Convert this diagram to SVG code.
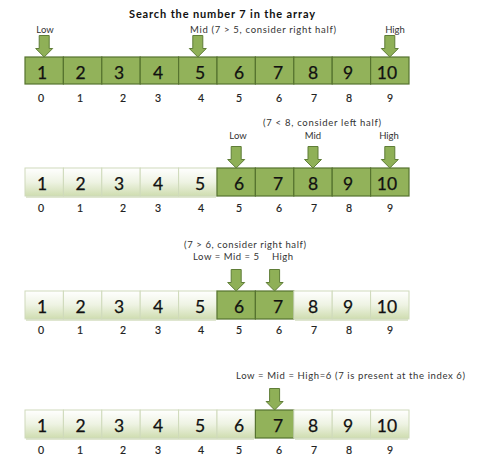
<svg xmlns="http://www.w3.org/2000/svg" width="502" height="462" viewBox="0 0 502 462">
<defs>
<linearGradient id="lightG" x1="0" y1="0" x2="0" y2="1">
<stop offset="0" stop-color="#ffffff"/>
<stop offset="0.5" stop-color="#eef3e3"/>
<stop offset="1" stop-color="#cfddb0"/>
</linearGradient>
<path id="arr" d="M-5,0 H5 V13 H8.5 L0,21.5 L-8.5,13 H-5 Z"/>
</defs>
<style>
.g{fill:#92b25a;stroke:#56732f;stroke-width:1.2}
.l{fill:url(#lightG);stroke:#cfdabb;stroke-width:1}
.n{font-family:Lato,"Open Sans",sans-serif;font-size:17.5px;fill:#111;text-anchor:middle;stroke:#111;stroke-width:0.25}
.i{font-family:Lato,"Open Sans",sans-serif;font-size:10.5px;fill:#222;text-anchor:middle;stroke:#222;stroke-width:0.2}
.t{font-family:Lato,"Open Sans",sans-serif;font-size:9.5px;fill:#333}
.c{text-anchor:middle}
.h{font-family:Lato,"Open Sans",sans-serif;font-size:11px;font-weight:bold;fill:#111;text-anchor:middle}
.a{fill:#8fb057;stroke:#5f7d37;stroke-width:1}
.s{fill:#c9d6b0;opacity:0.6}
</style>
<rect width="502" height="462" fill="#ffffff"/>
<text class="h" x="222" y="18" textLength="186">Search the number 7 in the array</text>

<!-- Row 1 -->
<g id="row1">
<g id="r1c0"><rect class="g" x="25" y="57" width="38.4" height="27"/><text class="n" x="42" y="79">1</text></g>
<g id="r1c1"><rect class="g" x="63.4" y="57" width="38.4" height="27"/><text class="n" x="80.5" y="79">2</text></g>
<g id="r1c2"><rect class="g" x="101.8" y="57" width="38.4" height="27"/><text class="n" x="119" y="79">3</text></g>
<g id="r1c3"><rect class="g" x="140.2" y="57" width="38.4" height="27"/><text class="n" x="158" y="79">4</text></g>
<g id="r1c4"><rect class="g" x="178.6" y="57" width="38.4" height="27"/><text class="n" x="200" y="79">5</text></g>
<g id="r1c5"><rect class="g" x="217" y="57" width="38.4" height="27"/><text class="n" x="239" y="79">6</text></g>
<g id="r1c6"><rect class="g" x="255.4" y="57" width="38.4" height="27"/><text class="n" x="278" y="79">7</text></g>
<g id="r1c7"><rect class="g" x="293.8" y="57" width="38.4" height="27"/><text class="n" x="313" y="79">8</text></g>
<g id="r1c8"><rect class="g" x="332.2" y="57" width="38.4" height="27"/><text class="n" x="348" y="79">9</text></g>
<g id="r1c9"><rect class="g" x="370.6" y="57" width="38.4" height="27"/><text class="n" x="387" y="79">10</text></g>
</g>
<g id="idx1">
<text class="i" x="41" y="102">0</text><text class="i" x="80" y="102">1</text><text class="i" x="123" y="102">2</text><text class="i" x="158" y="102">3</text><text class="i" x="201" y="102">4</text><text class="i" x="239" y="102">5</text><text class="i" x="279" y="102">6</text><text class="i" x="314" y="102">7</text><text class="i" x="349" y="102">8</text><text class="i" x="390" y="102">9</text>
</g>
<g id="lab1">
<text class="t c" x="45" y="33">Low</text>
<text class="t" x="190" y="33" textLength="146">Mid (7 &gt; 5, consider right half)</text>
<text class="t c" x="395" y="33">High</text>
</g>

<!-- Row 2 -->
<g id="row2">
<rect class="s" x="26" y="196" width="190" height="2"/>
<g id="r2c0"><rect class="l" x="25" y="168" width="38.4" height="28"/><text class="n" x="42" y="190">1</text></g>
<g id="r2c1"><rect class="l" x="63.4" y="168" width="38.4" height="28"/><text class="n" x="80.5" y="190">2</text></g>
<g id="r2c2"><rect class="l" x="101.8" y="168" width="38.4" height="28"/><text class="n" x="119" y="190">3</text></g>
<g id="r2c3"><rect class="l" x="140.2" y="168" width="38.4" height="28"/><text class="n" x="158" y="190">4</text></g>
<g id="r2c4"><rect class="l" x="178.6" y="168" width="38.4" height="28"/><text class="n" x="200" y="190">5</text></g>
<g id="r2c5"><rect class="g" x="217" y="168" width="38.4" height="28"/><text class="n" x="239" y="190">6</text></g>
<g id="r2c6"><rect class="g" x="255.4" y="168" width="38.4" height="28"/><text class="n" x="278" y="190">7</text></g>
<g id="r2c7"><rect class="g" x="293.8" y="168" width="38.4" height="28"/><text class="n" x="313" y="190">8</text></g>
<g id="r2c8"><rect class="g" x="332.2" y="168" width="38.4" height="28"/><text class="n" x="348" y="190">9</text></g>
<g id="r2c9"><rect class="g" x="370.6" y="168" width="38.4" height="28"/><text class="n" x="387" y="190">10</text></g>
</g>
<g id="idx2">
<text class="i" x="41" y="212">0</text><text class="i" x="80" y="212">1</text><text class="i" x="123" y="212">2</text><text class="i" x="158" y="212">3</text><text class="i" x="201" y="212">4</text><text class="i" x="239" y="212">5</text><text class="i" x="279" y="212">6</text><text class="i" x="314" y="212">7</text><text class="i" x="349" y="212">8</text><text class="i" x="390" y="212">9</text>
</g>
<g id="lab2">
<text class="t" x="263" y="126" textLength="118">(7 &lt; 8, consider left half)</text>
<text class="t c" x="238" y="139">Low</text>
<text class="t c" x="313" y="139">Mid</text>
<text class="t c" x="389" y="139">High</text>
</g>

<!-- Row 3 -->
<g id="row3">
<rect class="s" x="26" y="319" width="190" height="2"/>
<rect class="s" x="295" y="319" width="113" height="2"/>
<g id="r3c0"><rect class="l" x="25" y="291" width="38.4" height="28"/><text class="n" x="42" y="313">1</text></g>
<g id="r3c1"><rect class="l" x="63.4" y="291" width="38.4" height="28"/><text class="n" x="80.5" y="313">2</text></g>
<g id="r3c2"><rect class="l" x="101.8" y="291" width="38.4" height="28"/><text class="n" x="119" y="313">3</text></g>
<g id="r3c3"><rect class="l" x="140.2" y="291" width="38.4" height="28"/><text class="n" x="158" y="313">4</text></g>
<g id="r3c4"><rect class="l" x="178.6" y="291" width="38.4" height="28"/><text class="n" x="200" y="313">5</text></g>
<g id="r3c5"><rect class="g" x="217" y="291" width="38.4" height="28"/><text class="n" x="239" y="313">6</text></g>
<g id="r3c6"><rect class="g" x="255.4" y="291" width="38.4" height="28"/><text class="n" x="278" y="313">7</text></g>
<g id="r3c7"><rect class="l" x="293.8" y="291" width="38.4" height="28"/><text class="n" x="313" y="313">8</text></g>
<g id="r3c8"><rect class="l" x="332.2" y="291" width="38.4" height="28"/><text class="n" x="348" y="313">9</text></g>
<g id="r3c9"><rect class="l" x="370.6" y="291" width="38.4" height="28"/><text class="n" x="387" y="313">10</text></g>
</g>
<g id="idx3">
<text class="i" x="41" y="334">0</text><text class="i" x="80" y="334">1</text><text class="i" x="123" y="334">2</text><text class="i" x="158" y="334">3</text><text class="i" x="201" y="334">4</text><text class="i" x="239" y="334">5</text><text class="i" x="279" y="334">6</text><text class="i" x="314" y="334">7</text><text class="i" x="349" y="334">8</text><text class="i" x="390" y="334">9</text>
</g>
<g id="lab3">
<text class="t" x="184" y="247.5" textLength="122">(7 &gt; 6, consider right half)</text>
<text class="t" x="193" y="260" textLength="66">Low = Mid = 5</text>
<text class="t" x="272" y="260" textLength="21">High</text>
</g>

<!-- Row 4 -->
<g id="row4">
<rect class="s" x="26" y="438" width="228" height="2"/>
<rect class="s" x="295" y="438" width="113" height="2"/>
<g id="r4c0"><rect class="l" x="25" y="410" width="38.4" height="28"/><text class="n" x="42" y="432">1</text></g>
<g id="r4c1"><rect class="l" x="63.4" y="410" width="38.4" height="28"/><text class="n" x="80.5" y="432">2</text></g>
<g id="r4c2"><rect class="l" x="101.8" y="410" width="38.4" height="28"/><text class="n" x="119" y="432">3</text></g>
<g id="r4c3"><rect class="l" x="140.2" y="410" width="38.4" height="28"/><text class="n" x="158" y="432">4</text></g>
<g id="r4c4"><rect class="l" x="178.6" y="410" width="38.4" height="28"/><text class="n" x="200" y="432">5</text></g>
<g id="r4c5"><rect class="l" x="217" y="410" width="38.4" height="28"/><text class="n" x="239" y="432">6</text></g>
<g id="r4c6"><rect class="g" x="255.4" y="410" width="38.4" height="28"/><text class="n" x="278" y="432">7</text></g>
<g id="r4c7"><rect class="l" x="293.8" y="410" width="38.4" height="28"/><text class="n" x="313" y="432">8</text></g>
<g id="r4c8"><rect class="l" x="332.2" y="410" width="38.4" height="28"/><text class="n" x="348" y="432">9</text></g>
<g id="r4c9"><rect class="l" x="370.6" y="410" width="38.4" height="28"/><text class="n" x="387" y="432">10</text></g>
</g>
<g id="idx4">
<text class="i" x="41" y="454">0</text><text class="i" x="80" y="454">1</text><text class="i" x="123" y="454">2</text><text class="i" x="158" y="454">3</text><text class="i" x="201" y="454">4</text><text class="i" x="239" y="454">5</text><text class="i" x="279" y="454">6</text><text class="i" x="314" y="454">7</text><text class="i" x="349" y="454">8</text><text class="i" x="390" y="454">9</text>
</g>
<g id="lab4">
<text class="t" x="236" y="379" textLength="229">Low = Mid = High=6 (7 is present at the index 6)</text>
</g>

<!-- Connectors (pointer arrows) -->
<g id="connectors">
<use href="#arr" class="a" x="44.2" y="35.5"/>
<use href="#arr" class="a" x="197.8" y="35.5"/>
<use href="#arr" class="a" x="389.8" y="35.5"/>
<use href="#arr" class="a" x="236.2" y="146.5"/>
<use href="#arr" class="a" x="313" y="146.5"/>
<use href="#arr" class="a" x="389.8" y="146.5"/>
<use href="#arr" class="a" x="236.2" y="269.5"/>
<use href="#arr" class="a" x="274.6" y="269.5"/>
<use href="#arr" class="a" x="274.6" y="388.5"/>
</g>
</svg>
